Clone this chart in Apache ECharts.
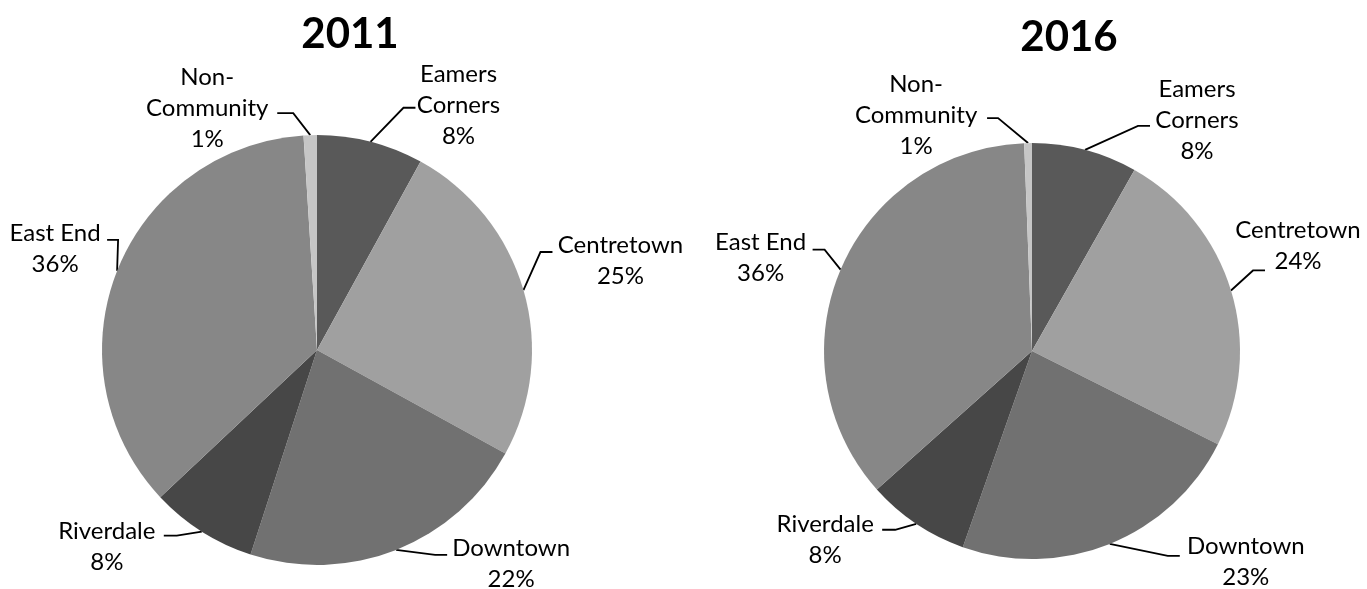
<!DOCTYPE html>
<html>
<head>
<meta charset="utf-8">
<script src="https://cdn.jsdelivr.net/npm/echarts@6/dist/echarts.min.js"></script>
<style>
html,body{margin:0;padding:0;background:#fff;}
#chart{width:1367px;height:589px;}
</style>
</head>
<body>
<div id="chart"></div>
<script>
// ---- data ----
const categories = ['Eamers Corners', 'Centretown', 'Downtown', 'Riverdale', 'East End', 'Non-Community'];
const labelNames = ['Eamers\nCorners', 'Centretown', 'Downtown', 'Riverdale', 'East End', 'Non-\nCommunity'];
const years = ['2011', '2016'];
const values2011 = [8, 25, 22, 8, 36, 1];
const values2016 = [8.2, 24.2, 23, 8, 36, 0.6];
const sliceColors = ['#595959', '#a0a0a0', '#717171', '#474747', '#878787', '#c6c6c6'];

// ---- layout (label offsets relative to each slice's edge anchor) ----
// [labelDx, labelDy, lineEndDx, lineEndDy, bendDx]
const labelOffsets = [
  [
    [88, -36, 45, -34, -12],
    [97, -29, 29, -38, -12],
    [115, 14, 51, 5, -12],
    [-95, 15, -38, 4, 13],
    [-62, -22, -10, -31, 11],
    [-103, -27, -33, -22, 16]
  ],
  [
    [112, -30, 65, -24, -12],
    [67, -45, 34, -20, -12],
    [136, 18, 70, 12, -12],
    [-91, 16, -34, 6, 13],
    [-80, -12, -28, -20, 12],
    [-112, -28, -41, -25, 11]
  ]
];
const pieCenters = [[317, 350], [1032, 351]];
const pieRadii = [215, 208];
const titleCenters = [[345, 6], [1064, 9]];

const chart = echarts.init(document.getElementById('chart'), null, {renderer: 'canvas'});

function makeSeries(idx, values) {
  return {
    type: 'pie',
    center: pieCenters[idx],
    radius: pieRadii[idx],
    startAngle: 90,
    clockwise: true,
    avoidLabelOverlap: false,
    animation: false,
    silent: true,
    data: categories.map((c, i) => ({
      name: c,
      value: values[i],
      itemStyle: {color: sliceColors[i]}
    })),
    itemStyle: {borderWidth: 0},
    label: {
      show: true,
      position: 'outside',
      formatter: p => labelNames[p.dataIndex] + '\n' + Math.round(p.percent) + '%',
      fontFamily: 'Lato',
      fontSize: 24,
      lineHeight: 31,
      color: '#000',
      align: 'center'
    },
    labelLine: {
      show: true,
      length: 10,
      length2: 10,
      lineStyle: {color: '#000', width: 1.8}
    },
    labelLayout: function (params) {
      const pts = params.labelLinePoints;
      if (!pts) return {};
      const a = pts[0];
      const o = labelOffsets[idx][params.dataIndex];
      const end = [a[0] + o[2], a[1] + o[3]];
      const bend = [end[0] + o[4], end[1]];
      return {
        x: a[0] + o[0],
        y: a[1] + o[1],
        align: 'center',
        verticalAlign: 'middle',
        labelLinePoints: [[a[0], a[1]], bend, end]
      };
    }
  };
}

chart.setOption({
  backgroundColor: '#fff',
  animation: false,
  title: years.map((y, i) => ({
    text: y,
    left: titleCenters[i][0],
    top: titleCenters[i][1],
    textAlign: 'center',
    textStyle: {fontFamily: 'Lato', fontWeight: 'bold', fontSize: 42, color: '#000', lineHeight: 46}
  })),
  series: [makeSeries(0, values2011), makeSeries(1, values2016)]
});
</script>
</body>
</html>
